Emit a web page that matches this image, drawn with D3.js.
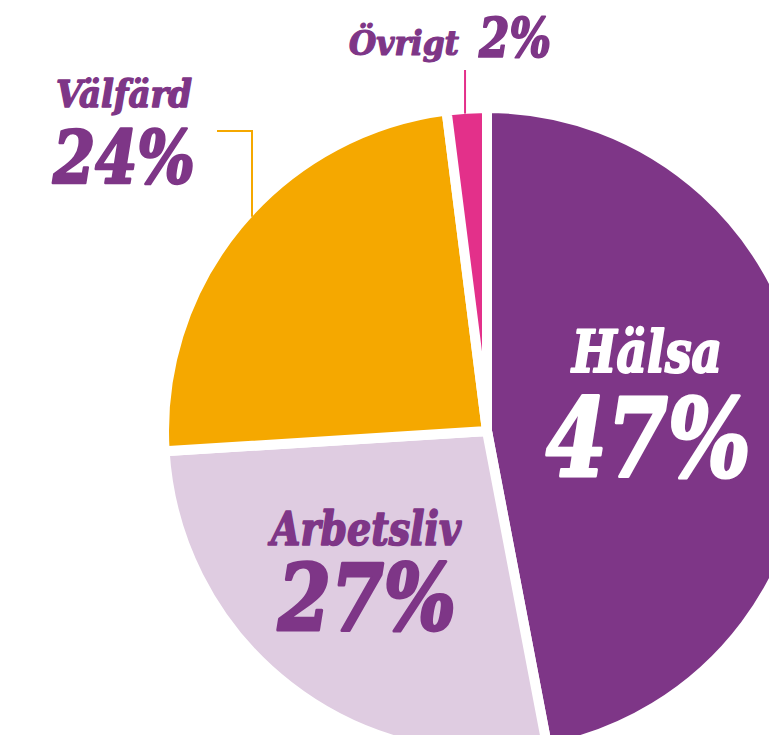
<!DOCTYPE html>
<html>
<head>
<meta charset="utf-8">
<script src="https://cdn.jsdelivr.net/npm/d3@7"></script>
<style>
  html, body { margin: 0; padding: 0; background: #fff; }
  svg { display: block; }
  .lbl { font-family: "DejaVu Serif Condensed", "DejaVu Serif", serif; font-weight: bold; font-style: italic; paint-order: stroke; stroke-linejoin: round; }
</style>
</head>
<body>
<svg id="chart"></svg>
<script>
var categories = ["Hälsa", "Arbetsliv", "Välfärd", "Övrigt"];
var values = [47, 27, 24, 2];
var colors = ["#7e3687", "#dfcce1", "#f5a800", "#e3308a"];

var width = 769,
    height = 735,
    cx = 487,
    cy = 431,
    radius = 323;

var svg = d3.select("#chart").attr("width", width).attr("height", height);

var data = categories.map(function(c, i) {
    return { name: c, value: values[i], color: colors[i] };
});

var pie = d3.pie().sort(null).value(function(d) { return d.value; });
var arc = d3.arc().innerRadius(0).outerRadius(radius);
var arcs = pie(data);

var g = svg.append("g").attr("transform", "translate(" + [cx, cy] + ")");

g.selectAll("path")
    .data(arcs)
    .enter()
    .append("path")
    .attr("d", arc)
    .style("fill", function(d) { return d.data.color; })
    .style("stroke", "#fff")
    .style("stroke-width", 10)
    .style("stroke-linejoin", "miter");

// leader lines
var vis = radius - 5;
var ov = arcs[3], mid = (ov.startAngle + ov.endAngle) / 2;
var ox = vis * Math.sin(mid) - 2;
g.append("line")
    .attr("x1", ox).attr("x2", ox)
    .attr("y1", 70 - cy).attr("y2", -vis * Math.cos(mid))
    .style("stroke", colors[3]).style("stroke-width", 2);

var lx = 252 - cx;
var ly = -Math.sqrt(vis * vis - lx * lx);
g.append("path")
    .attr("d", "M" + (217 - cx) + "," + (131 - cy) + "H" + lx + "V" + ly)
    .style("fill", "none")
    .style("stroke", colors[2]).style("stroke-width", 2);

// labels
var labels = [
    { t: categories[0], x: 572, y: 372, s: 58, w: 150, c: "#fff", k: 2 },
    { t: values[0] + "%", x: 546, y: 476, s: 108, w: 205, c: "#fff", k: 3 },
    { t: categories[1], x: 271, y: 545, s: 46, w: 190, c: colors[0], k: 1.6 },
    { t: values[1] + "%", x: 278, y: 630, s: 92, w: 178, c: colors[0], k: 3 },
    { t: categories[2], x: 56, y: 107, s: 38, w: 136, c: colors[0], k: 1.4 },
    { t: values[2] + "%", x: 53, y: 183, s: 73, w: 142, c: colors[0], k: 2.4 },
    { t: categories[3], x: 349, y: 55, s: 33, w: 110, c: colors[0], k: 1.2 },
    { t: values[3] + "%", x: 479, y: 57, s: 54, w: 72, c: colors[0], k: 1.8 }
];

svg.selectAll("text.lbl")
    .data(labels)
    .enter()
    .append("text")
    .attr("class", "lbl")
    .attr("x", function(d) { return d.x; })
    .attr("y", function(d) { return d.y; })
    .attr("textLength", function(d) { return d.w; })
    .attr("lengthAdjust", "spacingAndGlyphs")
    .style("font-size", function(d) { return d.s + "px"; })
    .style("fill", function(d) { return d.c; })
    .style("stroke", function(d) { return d.c; })
    .style("stroke-width", function(d) { return d.k; })
    .text(function(d) { return d.t; });
</script>
</body>
</html>
